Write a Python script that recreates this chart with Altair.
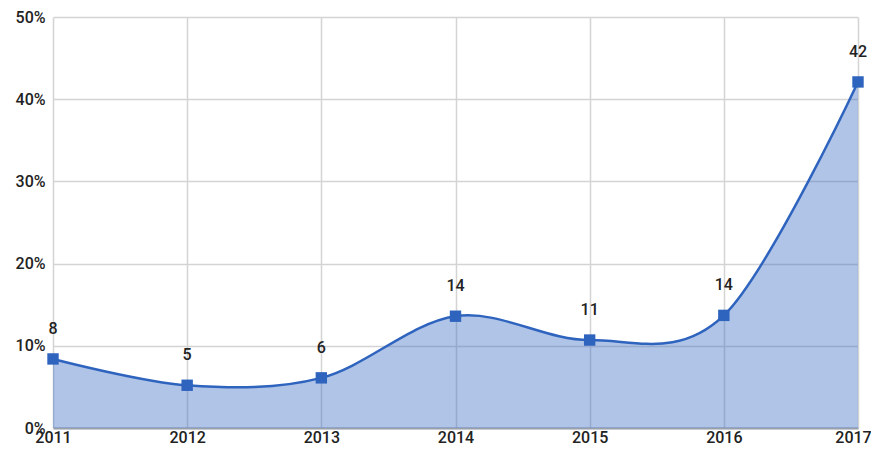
import altair as alt
import pandas as pd

years = [2011, 2012, 2013, 2014, 2015, 2016, 2017]
values = [8.4, 5.2, 6.1, 13.6, 10.7, 13.7, 42.1]
labels = ["8", "5", "6", "14", "11", "14", "42"]

df = pd.DataFrame({"year": years, "value": [v / 100 for v in values], "label": labels})

x = alt.X("year:Q", scale=alt.Scale(domain=[2011, 2017], nice=False, zero=False),
          axis=alt.Axis(values=years, format="d", title=None, grid=True, gridColor="#d4d4d4",
                        gridWidth=1.5, domain=True, domainColor="#9aa0aa", domainWidth=2,
                        ticks=False, labelFont="Roboto", labelFontSize=16, labelFontWeight=500,
                        labelColor="#222222", labelPadding=1, labelFlush=False,
                        labelOffset={"condition": {"test": "datum.value == 2017", "value": -5}, "value": 0}))
y = alt.Y("value:Q", scale=alt.Scale(domain=[0, 0.5], nice=False),
          axis=alt.Axis(values=[0, 0.1, 0.2, 0.3, 0.4, 0.5], format=".0%", title=None, grid=True,
                        gridColor="#d4d4d4", gridWidth=1.5, domain=False, ticks=False,
                        labelFont="Roboto", labelFontSize=16, labelFontWeight=500,
                        labelColor="#222222", labelPadding=8))

base = alt.Chart(df)

area = base.mark_area(interpolate="cardinal", color="#3a6bc4", opacity=0.4).encode(x=x, y=y)
line = base.mark_line(interpolate="cardinal", color="#2e63be", strokeWidth=2.5).encode(x="year:Q", y="value:Q")
pts = base.mark_point(shape="square", filled=True, size=130, color="#2e63be", opacity=1).encode(x="year:Q", y="value:Q")
txt = base.mark_text(dy=-30, font="Roboto", fontSize=16, fontWeight=500, color="#222222").encode(
    x="year:Q", y="value:Q", text="label:N")

chart = (area + line + pts + txt).properties(
    width=805, height=411,
    autosize=alt.AutoSizeParams(type="none"),
    padding={"left": 45, "top": 9, "right": 13, "bottom": 18},
).configure_view(stroke=None)

chart.save("out.html", embed_options={"renderer": "svg", "actions": False})
